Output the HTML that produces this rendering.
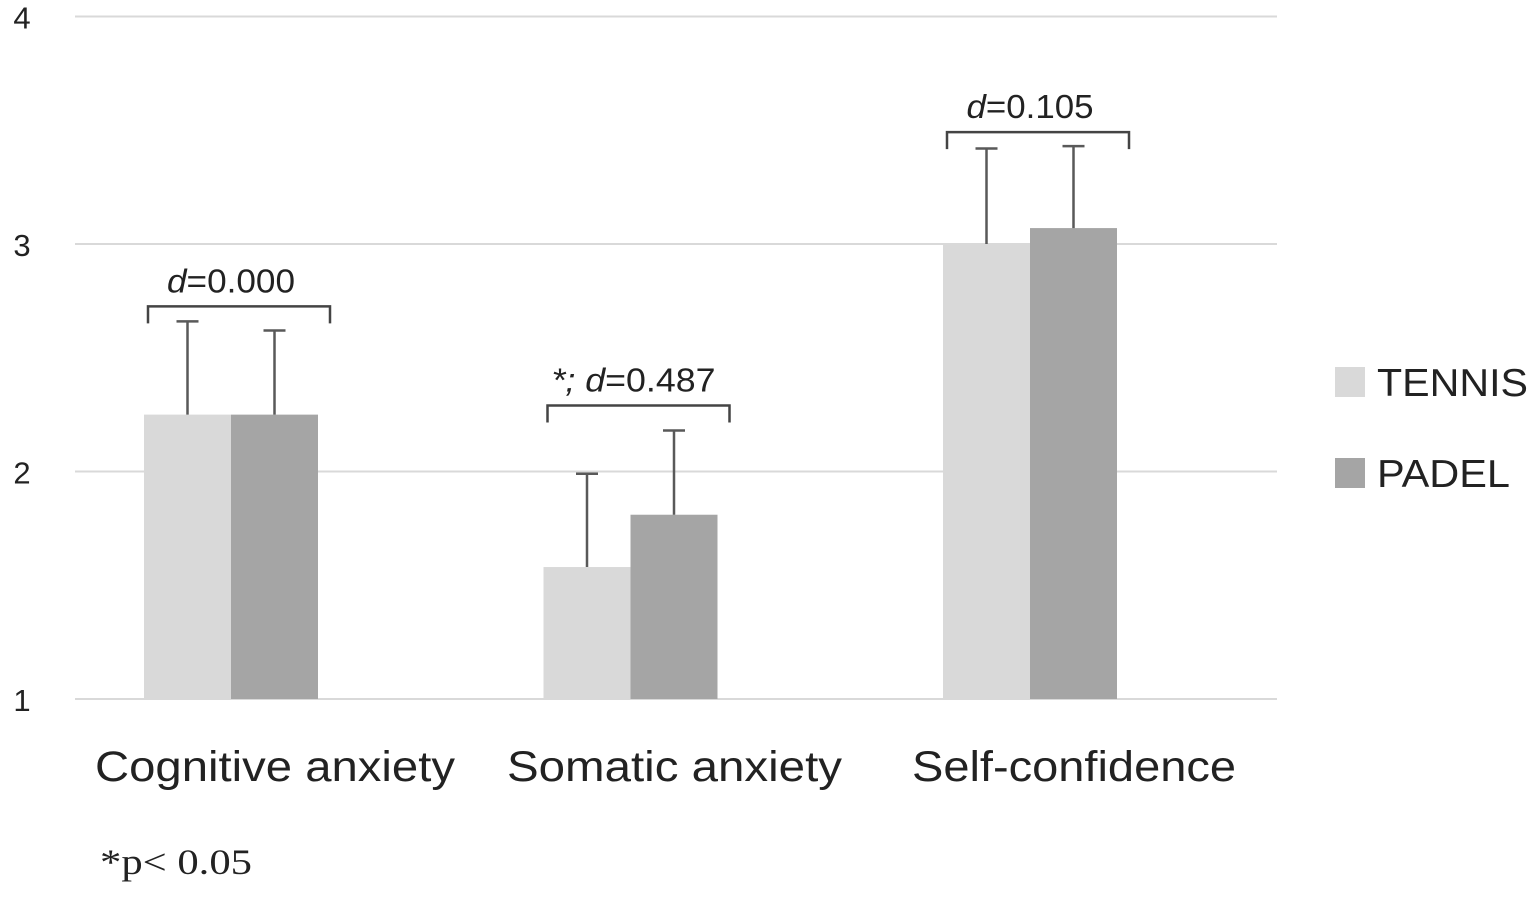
<!DOCTYPE html>
<html><head><meta charset="utf-8"><style>
body{margin:0;background:#fff;}
svg{display:block;font-family:"Liberation Sans",sans-serif;}
</style></head><body>
<svg id="chart" width="1535" height="899" viewBox="0 0 1535 899" xmlns="http://www.w3.org/2000/svg">
<g id="grid"></g>
<g id="yticks"></g>
<g id="bars"></g>
<g id="ann"></g>
<g id="xlab"></g>
<g>
 <rect x="1335" y="367" width="30" height="30" fill="#d9d9d9"/>
 <text x="1377" y="396" font-size="39" fill="#222" textLength="151" lengthAdjust="spacingAndGlyphs">TENNIS</text>
 <rect x="1335" y="458" width="30" height="30" fill="#a5a5a5"/>
 <text x="1377" y="487" font-size="39" fill="#222" textLength="133" lengthAdjust="spacingAndGlyphs">PADEL</text>
</g>
<text x="100" y="874" font-size="36" font-family="Liberation Serif, serif" fill="#222" textLength="152" lengthAdjust="spacingAndGlyphs">*p&lt; 0.05</text>
</svg>
<script>
const categories=["Cognitive anxiety","Somatic anxiety","Self-confidence"];
const tennis=[2.25,1.58,3.0];
const padel=[2.25,1.81,3.07];
const tennisErr=[0.41,0.41,0.42];
const padelErr=[0.37,0.37,0.36];
const annotations=["d=0.000","*; d=0.487","d=0.105"];
const yTicks=[1,2,3,4];
const NS="http://www.w3.org/2000/svg";
const labelW=[360,335,324];
const annW=[128,164,127];
const bracketGap=[15,25,14];
function y(v){return 699-(v-1)*227.5;}
function cx(i){return 231+i*399.5;}
function mk(t,a,p){const e=document.createElementNS(NS,t);for(const k in a)e.setAttribute(k,a[k]);p.appendChild(e);return e;}
const grid=document.getElementById('grid'),yt=document.getElementById('yticks'),bars=document.getElementById('bars'),ann=document.getElementById('ann'),xl=document.getElementById('xlab');
yTicks.forEach(t=>{
 const l=mk('line',{x1:75,x2:1277,y1:y(t),y2:y(t),stroke:'#d9d9d9','stroke-width':2},grid);
 
 
 const tx=mk('text',{x:22,y:y(t)+12,'font-size':31,'text-anchor':'middle',fill:'#222'},yt);
 tx.textContent=t;
 
 
});
const bw=87;
categories.forEach((c,i)=>{
 const series=[[tennis[i],tennisErr[i],'#d9d9d9',cx(i)-bw,'tennis'],[padel[i],padelErr[i],'#a5a5a5',cx(i),'padel']];
 series.forEach(s=>{
  const r=mk('rect',{x:s[3],y:y(s[0]),width:bw,height:y(1)-y(s[0]),fill:s[2]},bars);
  
  
  const mx=s[3]+bw/2,top=y(s[0]+s[1]);
  const e=mk('path',{d:`M${mx} ${y(s[0])}V${top}M${mx-11} ${top}H${mx+11}`,stroke:'#595959','stroke-width':2.5,fill:'none'},bars);
  
  
 });
 const maxTop=Math.min(y(tennis[i]+tennisErr[i]),y(padel[i]+padelErr[i]));
 const by=maxTop-bracketGap[i];
 const b=mk('path',{d:`M${cx(i)-83} ${by+17}V${by}H${cx(i)+99}V${by+17}`,stroke:'#444','stroke-width':2.5,fill:'none'},ann);
 
 
 const t=mk('text',{x:cx(i)+(i==1?3:0),y:by-14,'font-size':33,'text-anchor':'middle',fill:'#222',textLength:annW[i],lengthAdjust:'spacingAndGlyphs'},ann);
 
 
 const a=annotations[i],k=a.indexOf('d=');
 const p1=mk('tspan',{},t);p1.textContent=a.slice(0,k);p1.setAttribute('font-style','italic');
 const p2=mk('tspan',{'font-style':'italic'},t);p2.textContent='d';
 const p3=mk('tspan',{},t);p3.textContent=a.slice(k+1);
 const xt=mk('text',{x:cx(i)+44,y:781,'font-size':43,'text-anchor':'middle',fill:'#222',textLength:labelW[i],lengthAdjust:'spacingAndGlyphs'},xl);
 xt.textContent=c;
 
 
});
</script>
</body></html>
